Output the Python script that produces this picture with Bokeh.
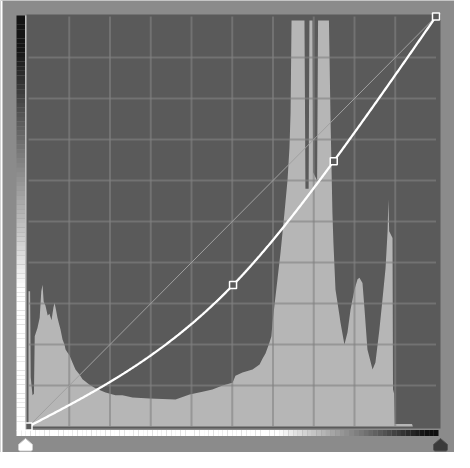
import numpy as np
from bokeh.plotting import figure
from bokeh.models import Range1d, BoxAnnotation
from bokeh.embed import file_html
from bokeh.resources import INLINE

# ---------------- data ----------------
# curve control points (input level, output level), 0..255
curve_in = [0, 128, 191, 255]
curve_out = [0, 88, 165, 255]

# histogram outline: input level and bar height in % of graph height
hist_level = [0.0, 1.0, 1.4, 2.5, 3.4, 3.9, 5.6, 7.0, 8.0, 8.8, 9.5, 10.6, 12.0,
              13.1, 14.4, 15.6, 16.3, 17.2, 18.1, 19.2, 20.0, 21.3, 22.5, 23.2,
              24.5, 25.7, 27.5, 29.4, 31.9, 33.8, 38.2, 41.9, 48.2, 54.4, 58.8,
              65.1, 75.7, 92.0, 100.8, 108.9, 115.1, 121.4, 127.7, 129.5, 133.9,
              140.2, 144.6, 146.4, 148.3, 150.8, 152.0, 152.7, 153.9, 155.8,
              157.7, 160.2, 162.1, 163.3, 164.0, 164.6, 172.7, 173.0, 173.3,
              175.3, 175.8, 177.7, 178.1, 180.6, 181.2, 188.0, 189.0, 190.2,
              190.8, 192.1, 194.6, 195.2, 197.7, 199.6, 201.5, 204.0, 205.9,
              207.1, 209.0, 210.3, 212.1, 215.3, 217.1, 219.6, 221.5, 223.4,
              224.7, 225.2, 225.7, 227.8, 228.1, 228.8, 229.2, 240.0, 240.5, 255.0]
hist_pct = [33, 33, 12, 7.6, 8, 22, 24, 26.5, 33, 34.6, 30.5, 29.5, 27.1,
            27.5, 25.9, 29, 30.2, 28.5, 26.6, 24.9, 23.7, 21.2, 20.0, 18.8,
            18.0, 17.3, 15.6, 13.9, 12.7, 11.5, 10.2, 9.3, 8.3, 7.6, 7.6,
            7.1, 6.8, 6.6, 7.8, 8.5, 9.0, 10.0, 10.7, 12.4, 13.2,
            13.9, 15.1, 16.5, 17.8, 20.5, 22.0, 25.4, 29.5, 35.9,
            42.4, 52.2, 60.2, 68.0, 76.6, 99.0, 99.0, 80.0, 58.0,
            58.0, 99.0, 99.0, 62.0, 60.0, 99.0, 99.0, 75.0, 52.0,
            45.0, 33.4, 27.1, 25.4, 20.0, 22.9, 28.5, 33.4, 35.9,
            36.3, 35.0, 28.5, 18.8, 13.9, 15.6, 23.7, 31.0, 38.5,
            47.6, 55.4, 47.6, 46.0, 9.0, 8.0, 0.6, 0.6, 0.0, 0.0]

grid_divisions = 10

# ---------------- layout ----------------
W, H = 454, 452
PX0, PX1 = 28.0, 435.5      # canvas x of level 0 / 255
PY0, PY1 = 426.0, 16.0      # canvas y of level 0 / 255
sx = (PX1 - PX0) / 255.0
sy = (PY0 - PY1) / 255.0


def fx(px):  # reference-image x pixel -> level
    return (px - 8 - PX0) / sx


def fy(py):  # reference-image y pixel -> level
    return (PY0 - (py - 8)) / sy


PANEL = "#8b8b8b"
DARK = "#5a5a5a"
LIGHT = "#b6b6b6"

p = figure(width=W, height=H, output_backend="svg", toolbar_location=None,
           x_range=Range1d(-PX0 / sx, 255 + (W - PX1) / sx),
           y_range=Range1d(-(H - PY0) / sy, 255 + PY1 / sy),
           min_border=0, background_fill_color=PANEL, border_fill_color=PANEL)
p.axis.visible = False
p.grid.visible = False
p.outline_line_color = None

# white page strip at far left
p.add_layout(BoxAnnotation(left=0, right=2, left_units="screen", right_units="screen",
                           fill_color="white", fill_alpha=1, line_color=None))

# dark graph background
p.quad(left=fx(34), right=fx(448), bottom=fy(436), top=fy(22),
       fill_color=DARK, line_color=None)

# histogram
hist_y = [v * 255 / 100 for v in hist_pct]
p.varea(x=hist_level, y1=[0] * len(hist_level), y2=hist_y, fill_color=LIGHT)

# grid
ticks = [255 * i / grid_divisions for i in range(1, grid_divisions)]
p.segment(x0=ticks, y0=[0] * len(ticks), x1=ticks, y1=[255] * len(ticks),
          line_color="#828282", line_alpha=0.6, line_width=2)
p.segment(x0=[0] * len(ticks), y0=ticks, x1=[255] * len(ticks), y1=ticks,
          line_color="#828282", line_alpha=0.6, line_width=2)

# baseline diagonal
p.line([0, 255], [0, 255], line_color="#a0a0a0", line_width=1)

# natural cubic spline through control points
xs_c = np.array(curve_in, float)
ys_c = np.array(curve_out, float)
n = len(xs_c)
h = np.diff(xs_c)
A = np.zeros((n, n))
b = np.zeros(n)
A[0, 0] = A[-1, -1] = 1
for i in range(1, n - 1):
    A[i, i - 1] = h[i - 1]
    A[i, i] = 2 * (h[i - 1] + h[i])
    A[i, i + 1] = h[i]
    b[i] = 6 * ((ys_c[i + 1] - ys_c[i]) / h[i] - (ys_c[i] - ys_c[i - 1]) / h[i - 1])
M = np.linalg.solve(A, b)
xx = np.linspace(0, 255, 400)
yy = np.zeros_like(xx)
for k, x in enumerate(xx):
    i = min(np.searchsorted(xs_c, x, side="right") - 1, n - 2)
    t1 = xs_c[i + 1] - x
    t0 = x - xs_c[i]
    yy[k] = (M[i] * t1 ** 3 + M[i + 1] * t0 ** 3) / (6 * h[i]) \
        + (ys_c[i] / h[i] - M[i] * h[i] / 6) * t1 \
        + (ys_c[i + 1] / h[i] - M[i + 1] * h[i] / 6) * t0
yy = np.clip(yy, 0, 255)
p.line(xx, yy, line_color="white", line_width=2.3)

p.scatter(curve_in, curve_out, marker="square", size=7, fill_color=DARK,
          line_color="white", line_width=1.5)

# vertical output gradient bar (black top -> white bottom)
N = 90
top_l, bot_l = fy(23), fy(438)
edges = np.linspace(top_l, bot_l, N + 1)
cols = []
for i in range(N):
    t = (i + 0.5) / N
    v = int(np.clip(20 + (255 - 20) * (t - 0.08) / (0.66 - 0.08), 20, 255))
    cols.append("#%02x%02x%02x" % (v, v, v))
p.quad(left=fx(24), right=fx(32.5), top=edges[:-1], bottom=edges[1:],
       fill_color=cols, line_color=None)
p.segment(x0=[fx(33.3)], y0=[fy(23)], x1=[fx(33.3)], y1=[fy(437)],
          line_color="#d8d8d8", line_width=1)

# horizontal input gradient bar (white left -> black right)
lx, rx = fx(24), fx(446)
edges = np.linspace(lx, rx, N + 1)
cols = []
for i in range(N):
    t = (i + 0.5) / N
    v = int(np.clip(255 - (255 - 15) * (t - 0.62) / (0.97 - 0.62), 15, 255))
    cols.append("#%02x%02x%02x" % (v, v, v))
p.quad(left=edges[:-1], right=edges[1:], top=fy(437.5), bottom=fy(443.5),
       fill_color=cols, line_color=None)

# sliders
def slider(cx):
    return ([fx(cx), fx(cx + 7), fx(cx + 7), fx(cx + 6), fx(cx - 6), fx(cx - 7), fx(cx - 7)],
            [fy(446), fy(452), fy(457), fy(458.5), fy(458.5), fy(457), fy(452)])


sxw, syw = slider(33)
p.patch(sxw, syw, fill_color="white", line_color="#cfcfcf", line_width=1)
sxb, syb = slider(448)
p.patch(sxb, syb, fill_color="#3a3a3a", line_color="#555555", line_width=1)

open("out.html", "w").write(file_html(p, INLINE))
